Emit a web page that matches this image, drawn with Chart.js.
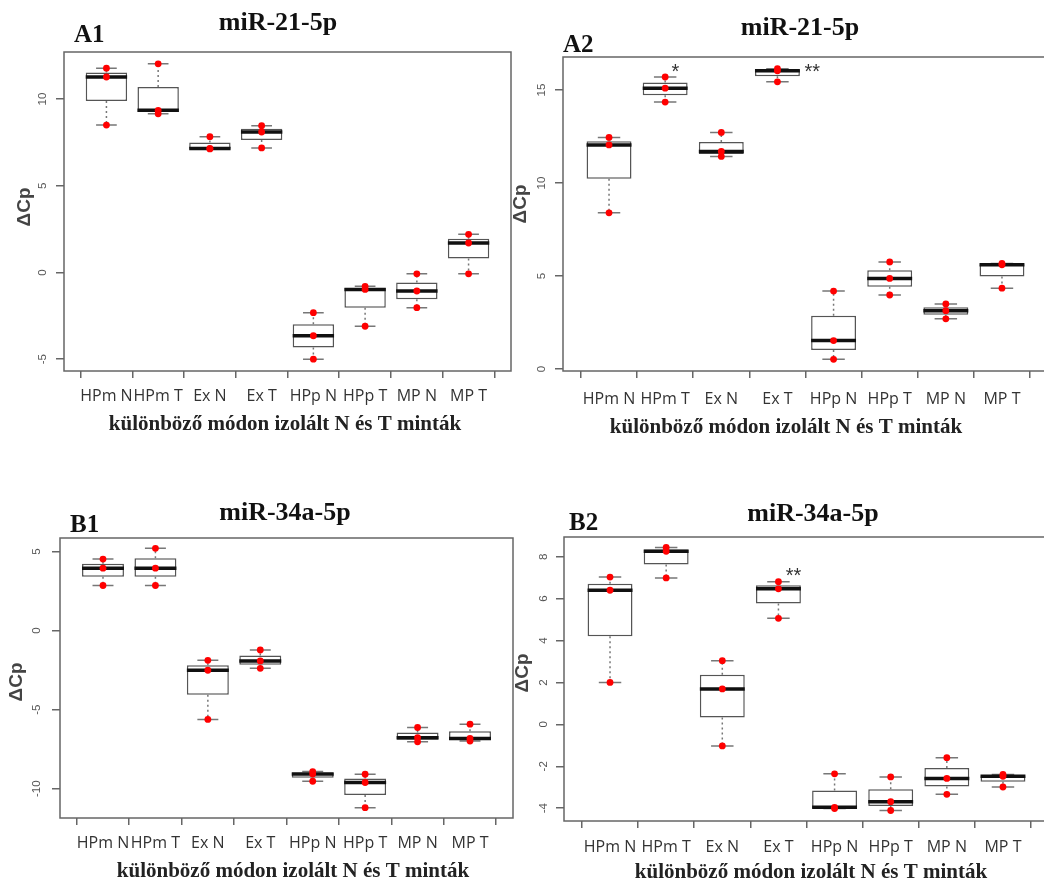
<!DOCTYPE html>
<html>
<head>
<meta charset="utf-8">
<script src="https://cdn.jsdelivr.net/npm/chart.js@4/dist/chart.umd.min.js"></script>
<style>
  html, body { margin: 0; padding: 0; background: #fff; }
  body { position: relative; width: 1044px; height: 884px; overflow: hidden; }
  canvas { position: absolute; }
</style>
</head>
<body>
<canvas id="a1" width="520" height="440" style="left:0;top:0"></canvas>
<canvas id="a2" width="552" height="440" style="left:508px;top:0"></canvas>
<canvas id="b1" width="520" height="444" style="left:0;top:440px"></canvas>
<canvas id="b2" width="552" height="444" style="left:508px;top:440px"></canvas>
<script>
// groups on the x axis, same in all four panels
const groups = ['HPm N', 'HPm T', 'Ex N', 'Ex T', 'HPp N', 'HPp T', 'MP N', 'MP T'];

// dCp of the three samples per group (red dots)
const a1Values = [[8.5, 11.27, 11.78], [9.15, 9.35, 12.03], [7.12, 7.15, 7.83], [7.18, 8.1, 8.46],
  [-5.0, -3.65, -2.32], [-3.1, -0.98, -0.8], [-2.03, -1.07, -0.08], [-0.08, 1.7, 2.2]];
const a2Values = [[8.4, 12.05, 12.45], [14.35, 15.1, 15.7], [11.43, 11.7, 12.72], [15.44, 16.03, 16.15],
  [0.52, 1.53, 4.19], [3.98, 4.87, 5.76], [2.7, 3.14, 3.5], [4.35, 5.6, 5.68]];
const b1Values = [[2.85, 3.95, 4.52], [2.85, 3.95, 5.2], [-5.62, -2.51, -1.88], [-2.39, -1.92, -1.23],
  [-9.53, -9.08, -8.92], [-11.2, -9.61, -9.09], [-7.04, -6.78, -6.13], [-6.99, -6.82, -5.92]];
const b2Values = [[2.0, 6.4, 7.03], [6.99, 8.26, 8.44], [-1.03, 1.69, 3.04], [5.06, 6.47, 6.81],
  [-4.02, -3.96, -2.36], [-4.11, -3.69, -2.51], [-3.34, -2.58, -1.59], [-2.99, -2.48, -2.39]];

// y tick labels
const a1Ticks = [-5, 0, 5, 10];
const a2Ticks = [0, 5, 10, 15];
const b1Ticks = [-10, -5, 0, 5];
const b2Ticks = [-4, -2, 0, 2, 4, 6, 8];

// significance marks (x in group units, y in dCp)
const a2Stars = [{ x: 2.18, y: 16.16, text: '*' }, { x: 4.62, y: 16.16, text: '**' }];
const b2Stars = [{ x: 4.27, y: 7.24, text: '**' }];

const xTitle = 'különböző módon izolált N és T minták';
const yTitle = 'ΔCp';

const panels = [
  { id: 'a1', title: 'miR-21-5p', letter: 'A1', values: a1Values, ticks: a1Ticks, stars: [],
    pad: { left: 0, top: 52, right: 9, bottom: 0 }, yWidth: 64, xHeight: 69, xTickPad: 9,
    titleAt: [278, 23], letterAt: [74, 36], xTitleAt: [285, 425], yTitleAt: [25, 207] },
  { id: 'a2', title: 'miR-21-5p', letter: 'A2', values: a2Values, ticks: a2Ticks, stars: a2Stars,
    pad: { left: 0, top: 57, right: 12, bottom: 0 }, yWidth: 55, xHeight: 69, xTickPad: 12,
    titleAt: [292, 28], letterAt: [55, 46], xTitleAt: [278, 428], yTitleAt: [13, 204] },
  { id: 'b1', title: 'miR-34a-5p', letter: 'B1', values: b1Values, ticks: b1Ticks, stars: [],
    pad: { left: 0, top: 98, right: 7, bottom: 0 }, yWidth: 60, xHeight: 66, xTickPad: 9,
    titleAt: [285, 73], letterAt: [70, 86], xTitleAt: [293, 432], yTitleAt: [17, 242] },
  { id: 'b2', title: 'miR-34a-5p', letter: 'B2', values: b2Values, ticks: b2Ticks, stars: b2Stars,
    pad: { left: 0, top: 97, right: 11, bottom: 0 }, yWidth: 56, xHeight: 63, xTickPad: 10,
    titleAt: [305, 74], letterAt: [61, 84], xTitleAt: [303, 433], yTitleAt: [15, 233] }
];

// Tukey hinges, as R's boxplot does for three values
function fiveNum(v) {
  const s = [...v].sort((a, b) => a - b);
  return { min: s[0], q1: (s[0] + s[1]) / 2, med: s[1], q3: (s[1] + s[2]) / 2, max: s[2] };
}

const frameColor = '#666';

const decorations = {
  id: 'decorations',
  beforeDatasetsDraw(chart) {
    const { ctx, chartArea: a } = chart;
    ctx.save();
    ctx.strokeStyle = frameColor;
    ctx.lineWidth = 1.5;
    ctx.strokeRect(a.left, a.top, a.right - a.left, a.bottom - a.top);
    ctx.restore();
  },
  afterDraw(chart, args, p) {
    const { ctx, scales } = chart;
    ctx.save();
    ctx.textBaseline = 'middle';
    ctx.fillStyle = '#111';
    ctx.textAlign = 'center';
    ctx.font = 'bold 26px "Liberation Serif"';
    ctx.fillText(p.title, p.titleAt[0], p.titleAt[1]);
    ctx.textAlign = 'left';
    ctx.font = 'bold 25px "Liberation Serif"';
    ctx.fillText(p.letter, p.letterAt[0], p.letterAt[1]);
    ctx.textAlign = 'center';
    ctx.fillStyle = '#222';
    ctx.font = 'bold 21px "Liberation Serif"';
    ctx.fillText(xTitle, p.xTitleAt[0], p.xTitleAt[1]);
    ctx.save();
    ctx.translate(p.yTitleAt[0], p.yTitleAt[1]);
    ctx.rotate(-Math.PI / 2);
    ctx.fillStyle = '#444';
    ctx.font = 'bold 19px "Liberation Sans"';
    ctx.fillText(yTitle, 0, 0);
    ctx.restore();
    ctx.fillStyle = '#333';
    ctx.font = '20px "Liberation Sans"';
    p.stars.forEach(s => {
      ctx.fillText(s.text, scales.x.getPixelForValue(s.x), scales.y.getPixelForValue(s.y) + 4);
    });
    ctx.restore();
  }
};

function makeChart(p) {
  const stats = p.values.map(fiveNum);
  const boxes = [], whiskers = [], caps = [], medians = [], points = [];
  stats.forEach((s, i) => {
    const x = i + 1;
    boxes.push({ x, y: [s.q1, s.q3] });
    whiskers.push({ x, y: s.q3 }, { x, y: s.max }, { x, y: null }, { x, y: s.q1 }, { x, y: s.min }, { x, y: null });
    caps.push({ x: x - 0.2, y: s.max }, { x: x + 0.2, y: s.max }, { x, y: null },
      { x: x - 0.2, y: s.min }, { x: x + 0.2, y: s.min }, { x, y: null });
    medians.push({ x: x - 0.4, y: s.med }, { x: x + 0.4, y: s.med }, { x, y: null });
  });
  p.values.forEach((v, i) => v.forEach(y => points.push({ x: i + 1, y })));

  const all = p.values.flat();
  const lo = Math.min(...all), hi = Math.max(...all), r = hi - lo;

  return new Chart(document.getElementById(p.id), {
    type: 'scatter',
    data: {
      datasets: [
        { type: 'scatter', data: points, pointRadius: 3.4, pointBackgroundColor: '#ff0000', pointBorderWidth: 0 },
        { type: 'line', data: medians, borderColor: '#111', borderWidth: 3.5, pointRadius: 0 },
        { type: 'line', data: caps, borderColor: '#777', borderWidth: 1.5, pointRadius: 0 },
        { type: 'line', data: whiskers, borderColor: '#777', borderWidth: 1.5, borderDash: [2, 3], pointRadius: 0 },
        { type: 'bar', data: boxes, backgroundColor: '#fff', borderColor: '#555', borderWidth: 1.5,
          borderSkipped: false, barPercentage: 1, categoryPercentage: 0.8 }
      ]
    },
    options: {
      responsive: false,
      animation: false,
      devicePixelRatio: 1,
      layout: { padding: p.pad },
      plugins: { legend: { display: false }, tooltip: { enabled: false }, decorations: p },
      scales: {
        x: {
          type: 'linear', offset: false,
          min: 1 - 0.82, max: groups.length + 0.82,
          afterBuildTicks: s => { s.ticks = groups.map((g, i) => ({ value: i + 1 })); },
          afterFit: s => { s.height = p.xHeight; },
          grid: { drawOnChartArea: false, tickLength: 7, color: frameColor, lineWidth: 1.5 },
          border: { display: false },
          ticks: {
            autoSkip: false, maxRotation: 0, padding: p.xTickPad, color: '#333',
            font: { family: '"Open Sans"', size: 16 },
            callback: v => groups[v - 1]
          }
        },
        y: {
          min: lo - 0.04 * r, max: hi + 0.04 * r,
          afterBuildTicks: s => { s.ticks = p.ticks.map(v => ({ value: v })); },
          afterFit: s => { s.width = p.yWidth; },
          grid: { drawOnChartArea: false, tickLength: 8, color: frameColor, lineWidth: 1.5 },
          border: { display: false },
          ticks: {
            minRotation: 90, maxRotation: 90, crossAlign: 'center', padding: 7, color: '#555',
            font: { family: '"Liberation Sans"', size: 11.5 }
          }
        }
      }
    },
    plugins: [decorations]
  });
}

panels.forEach(makeChart);
</script>
</body>
</html>
